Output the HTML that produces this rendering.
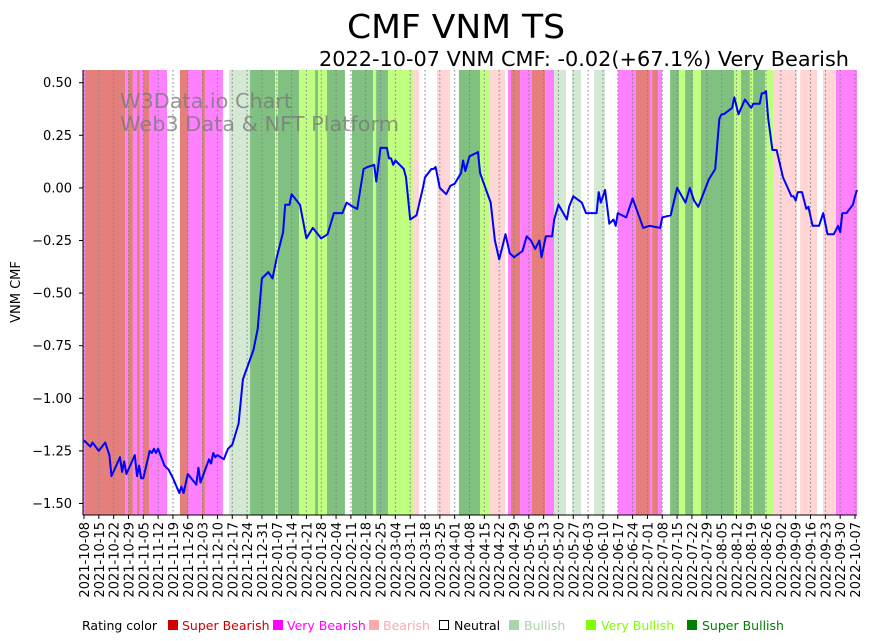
<!DOCTYPE html>
<html><head><meta charset="utf-8"><style>
body{margin:0;background:#fff}
svg{display:block;font-family:"DejaVu Sans","Liberation Sans",sans-serif}
</style></head><body>
<svg id="chart" width="873" height="641" viewBox="0 0 873 641" xmlns="http://www.w3.org/2000/svg">
<text x="456" y="38" font-size="33" text-anchor="middle" textLength="218" lengthAdjust="spacingAndGlyphs">CMF VNM TS</text>
<text x="849" y="66" font-size="20" text-anchor="end" textLength="530" lengthAdjust="spacingAndGlyphs">2022-10-07 VNM CMF: -0.02(+67.1%) Very Bearish</text>
<g id="bands"></g>
<g id="grid"></g>
<text x="120" y="108" font-size="20.5" fill="#777" fill-opacity="0.75" textLength="172" lengthAdjust="spacingAndGlyphs">W3Data.io Chart</text>
<text x="120" y="131" font-size="20.5" fill="#777" fill-opacity="0.75" textLength="279" lengthAdjust="spacingAndGlyphs">Web3 Data &amp; NFT Platform</text>
<path id="line" fill="none" stroke="#0000ff" stroke-width="2" stroke-linejoin="round"></path>
<g id="yaxis"></g>
<g id="xaxis"></g>
<text x="0" y="0" font-size="13" text-anchor="middle" transform="translate(20,292) rotate(-90)">VNM CMF</text>
<g font-size="12.5">
<text x="82" y="630">Rating color</text>
<rect x="168" y="620" width="10" height="10" fill="#d00000"/>
<text x="182" y="630" fill="#d00000">Super Bearish</text>
<rect x="273" y="620" width="10" height="10" fill="#ff00ff"/>
<text x="287" y="630" fill="#ff00ff">Very Bearish</text>
<rect x="369" y="620" width="10" height="10" fill="#ffaaaa"/>
<text x="383" y="630" fill="#ffaaaa">Bearish</text>
<rect x="439.5" y="620.5" width="9" height="9" fill="none" stroke="#000"/>
<text x="454" y="630">Neutral</text>
<rect x="509" y="620" width="10" height="10" fill="#aad4aa"/>
<text x="524" y="630" fill="#aad4aa">Bullish</text>
<rect x="586" y="620" width="10" height="10" fill="#80ff00"/>
<text x="601" y="630" fill="#80ff00">Very Bullish</text>
<rect x="687" y="620" width="10" height="10" fill="#008000"/>
<text x="702" y="630" fill="#008000">Super Bullish</text>
</g>
</svg>
<script>
// CMF series: day offset from 2021-10-08, value
const lineDays = [0,3,4,7,10,12,13,17,18,19,20,24,25,26,27,28,31,32,33,34,35,38,40,42,45,46,47,49,53,54,55,59,60,61,62,63,66,68,70,73,75,80,82,84,87,89,91,94,95,97,98,102,105,108,112,115,118,119,122,124,127,129,132,134,137,138,140,143,144,145,146,147,151,152,154,157,160,161,164,165,166,168,171,173,175,178,179,180,182,186,187,192,194,196,199,201,203,207,209,211,213,215,216,218,221,222,224,228,229,231,235,237,240,242,243,244,246,248,250,251,252,256,259,264,267,272,273,277,280,284,286,288,290,295,298,300,301,302,306,307,309,312,315,316,319,320,321,322,323,325,327,330,334,335,336,337,339,341,342,344,347,349,351,354,356,357,358,360,363,364,365];
const lineValues = [-1.20,-1.23,-1.21,-1.25,-1.21,-1.27,-1.37,-1.28,-1.35,-1.30,-1.36,-1.27,-1.37,-1.32,-1.38,-1.38,-1.25,-1.26,-1.24,-1.26,-1.24,-1.32,-1.34,-1.38,-1.45,-1.42,-1.45,-1.36,-1.41,-1.33,-1.40,-1.29,-1.31,-1.26,-1.28,-1.27,-1.29,-1.24,-1.22,-1.12,-0.91,-0.77,-0.67,-0.43,-0.40,-0.43,-0.33,-0.21,-0.08,-0.08,-0.03,-0.08,-0.24,-0.19,-0.24,-0.22,-0.12,-0.12,-0.12,-0.07,-0.09,-0.10,0.09,0.10,0.11,0.03,0.19,0.19,0.14,0.14,0.11,0.13,0.09,0.05,-0.15,-0.13,0.00,0.05,0.09,0.09,0.10,0.00,-0.03,0.01,0.02,0.07,0.13,0.08,0.15,0.17,0.07,-0.07,-0.25,-0.34,-0.22,-0.31,-0.33,-0.30,-0.23,-0.25,-0.29,-0.25,-0.33,-0.23,-0.23,-0.15,-0.08,-0.15,-0.09,-0.04,-0.07,-0.12,-0.12,-0.12,-0.02,-0.07,-0.01,-0.17,-0.15,-0.18,-0.12,-0.14,-0.05,-0.19,-0.18,-0.19,-0.14,-0.13,0.00,-0.07,0.00,-0.06,-0.09,0.04,0.09,0.33,0.35,0.35,0.38,0.43,0.35,0.42,0.38,0.40,0.40,0.45,0.45,0.46,0.33,0.18,0.18,0.05,-0.04,-0.04,-0.06,-0.02,-0.02,-0.10,-0.09,-0.18,-0.18,-0.12,-0.22,-0.22,-0.18,-0.21,-0.12,-0.12,-0.08,-0.04,-0.01];
// rating bands: start day, rating (0 neutral,1 super bearish,2 very bearish,3 bearish,4 bullish,5 very bullish,6 super bullish)
const bandStarts = [-0.5,0.5,19.4,20.8,23.1,25,26.4,27.9,30.7,39.2,45.3,49.1,55.7,57.1,65.6,68.5,78.4,90.2,91.6,101.5,109.1,110.5,114.7,123.2,126.5,136.5,137.9,143.5,155.3,158.2,166.7,172.8,177,187,191.2,198.8,200.2,201.6,205.9,211.5,217.7,221.9,227.6,230.4,234.7,240.8,246,252.1,260.6,267.2,268.2,271,272.9,276.7,281,283.8,287.5,291.3,306.9,310.2,314.4,315.9,321.5,325.3,336.6,338.1,346.1,348.9,355];
const bandRatings = [2,1,2,1,2,1,2,1,2,0,1,2,1,2,0,4,6,5,6,5,6,5,6,0,6,5,6,5,3,0,3,0,6,5,3,0,2,1,2,1,2,4,0,4,0,4,0,2,1,2,1,2,0,6,5,6,5,6,5,6,5,6,5,3,0,3,0,3,2];
const bandEnd = 365;
const yTicks = [0.5,0.25,0,-0.25,-0.5,-0.75,-1.0,-1.25,-1.5];
const yTickLabels = ["0.50","0.25","0.00","−0.25","−0.50","−0.75","−1.00","−1.25","−1.50"];
const xTickLabels = ["2021-10-08","2021-10-15","2021-10-22","2021-10-29","2021-11-05","2021-11-12","2021-11-19","2021-11-26","2021-12-03","2021-12-10","2021-12-17","2021-12-24","2021-12-31","2022-01-07","2022-01-14","2022-01-21","2022-01-28","2022-02-04","2022-02-11","2022-02-18","2022-02-25","2022-03-04","2022-03-11","2022-03-18","2022-03-25","2022-04-01","2022-04-08","2022-04-15","2022-04-22","2022-04-29","2022-05-06","2022-05-13","2022-05-20","2022-05-27","2022-06-03","2022-06-10","2022-06-17","2022-06-24","2022-07-01","2022-07-08","2022-07-15","2022-07-22","2022-07-29","2022-08-05","2022-08-12","2022-08-19","2022-08-26","2022-09-02","2022-09-09","2022-09-16","2022-09-23","2022-09-30","2022-10-07"];

const NS="http://www.w3.org/2000/svg";
const X0=84, X1=855, D1=364, Y0=187.9, YS=210.4, TOP=70, BOT=515, LEFT=83, RIGHT=857;
const xs=d=>Math.max(LEFT,Math.min(RIGHT,X0+d*(X1-X0)/D1));
const ys=v=>Y0-v*YS;
const colors=["#ffffff","#e47f7b","#ff80ff","#ffd5d5","#d4e9d4","#c0ff80","#80c080"];
const mk=(t,a)=>{const e=document.createElementNS(NS,t);for(const k in a)e.setAttribute(k,a[k]);return e;};

const gB=document.getElementById('bands');
bandStarts.forEach((s,i)=>{
  const e=i<bandStarts.length-1?bandStarts[i+1]:bandEnd;
  const x1=xs(s), x2=xs(e);
  const r=mk('rect',{x:x1,y:TOP,width:Math.max(0,x2-x1),height:BOT-TOP,fill:colors[bandRatings[i]]});
  
  
  gB.appendChild(r);
});

const gG=document.getElementById('grid'), gX=document.getElementById('xaxis');
xTickLabels.forEach((lab,i)=>{
  const x=xs(i*7);
  const l=mk('line',{x1:x,x2:x,y1:TOP,y2:BOT,stroke:'#808080','stroke-width':1,'stroke-dasharray':'1.5,2.5'});
  
  
  gG.appendChild(l);
  const t=mk('line',{x1:x,x2:x,y1:BOT,y2:BOT+4,stroke:'#000'});
  
  
  gX.appendChild(t);
  const tx=mk('text',{x:0,y:0,'font-size':13,'text-anchor':'end',transform:`translate(${x+5},${BOT+7}) rotate(-90)`});
  tx.textContent=lab;
  
  
  gX.appendChild(tx);
});
const bx=mk('line',{x1:LEFT,x2:RIGHT,y1:BOT,y2:BOT,stroke:'#000','stroke-width':1});


gX.appendChild(bx);

const gY=document.getElementById('yaxis');
yTicks.forEach((v,i)=>{
  const y=ys(v);
  const t=mk('line',{x1:LEFT-4,x2:LEFT,y1:y,y2:y,stroke:'#000'});
  
  
  gY.appendChild(t);
  const tx=mk('text',{x:LEFT-11,y:y+4.5,'font-size':13,'text-anchor':'end'});
  tx.textContent=yTickLabels[i];
  
  
  gY.appendChild(tx);
});
const ay=mk('line',{x1:LEFT,x2:LEFT,y1:TOP,y2:BOT,stroke:'#000','stroke-width':1});


gY.appendChild(ay);

document.getElementById('line').setAttribute('d',lineDays.map((d,i)=>(i?'L':'M')+xs(d).toFixed(1)+','+ys(lineValues[i]).toFixed(1)).join(''));
</script>
</body></html>
